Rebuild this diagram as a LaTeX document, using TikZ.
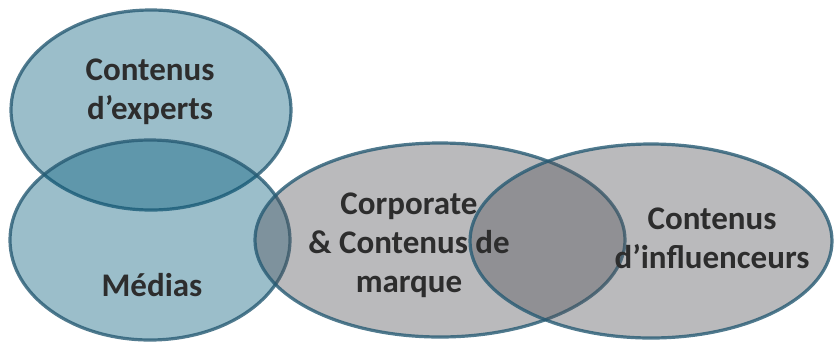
\documentclass[tikz,border=0pt]{standalone}
\usepackage{fontspec}
\setmainfont{Carlito}
\usetikzlibrary{shapes.geometric}
\definecolor{bluefill}{RGB}{5,92,123}
\definecolor{greyfill}{RGB}{82,82,88}
\definecolor{rim}{RGB}{38,90,115}
\definecolor{ink}{RGB}{45,45,45}

\begin{document}
\begin{tikzpicture}[x=1pt,y=-1pt,
   blob/.style={draw=rim,draw opacity=0.8,line width=3.2pt,fill opacity=0.4},
   words/.style={align=center,text=ink,font=\fontsize{33}{39}\selectfont\bfseries}]
   \useasboundingbox (0,0) rectangle (834,341);

   \path[blob,fill=bluefill] (151,110) ellipse (140 and 100);
   \path[blob,fill=bluefill] (150,240) ellipse (140 and 100);
   \path[blob,fill=greyfill] (440,240) ellipse (185 and 97);
   \path[blob,fill=greyfill] (651,241) ellipse (181 and 97);

   \node[words] (experts) at (150,92)  {Contenus\\d’experts};
   \node[words] (medias)  at (152,285) {Médias};
   \node[words] (marque)  at (409,245) {Corporate\\\& Contenus de\\marque};
   \node[words] (influ)   at (712,238) {Contenus\\d’influenceurs};
\end{tikzpicture}
\end{document}
